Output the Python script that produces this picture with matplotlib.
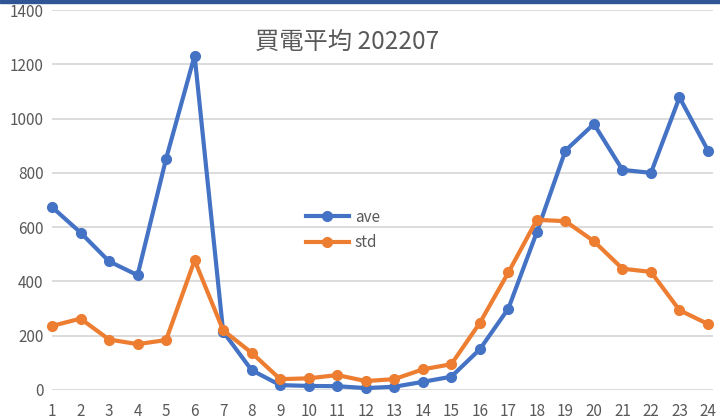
import numpy as np
import matplotlib.pyplot as plt
from matplotlib.patches import Rectangle

plt.rcParams['font.family'] = ['Noto Sans CJK TC', 'DejaVu Sans']

hours = list(range(1, 25))
ave = [674, 580, 474, 423, 852, 1232, 215, 73, 18, 15, 14, 7, 12, 30, 49,
       150, 300, 582, 882, 980, 811, 800, 1078, 882]
std = [236, 263, 186, 169, 184, 478, 220, 137, 40, 43, 55, 33, 40, 76, 95,
       247, 433, 627, 622, 548, 447, 435, 294, 243]

blue = '#4472C4'
orange = '#ED7D31'
grey = '#595959'

fig = plt.figure(figsize=(7.2, 4.2), dpi=100)
ax = fig.add_axes([52 / 720, 1 - 390 / 420, 661 / 720, 380 / 420])

ax.plot(hours, ave, color=blue, lw=3, marker='o', ms=7, label='ave', clip_on=False, zorder=3)
ax.plot(hours, std, color=orange, lw=3, marker='o', ms=7, label='std', clip_on=False, zorder=3)

ax.set_xlim(1 + 2 / 28.6, 24 + 5 / 28.6)
ax.set_ylim(0, 1400)
ax.set_yticks(np.arange(0, 1401, 200))
ax.set_xticks(hours)
ax.grid(axis='y', color='#D9D9D9', lw=1.3)
ax.set_axisbelow(True)
for s in ax.spines.values():
    s.set_visible(False)
ax.tick_params(length=0, labelsize=11, labelcolor=grey)
ax.tick_params(axis='x', pad=9)
ax.tick_params(axis='y', pad=6)

fig.text(347 / 720, 1 - 42 / 420, '買電平均 202207', ha='center', va='center',
         fontsize=17.5, color=grey)

ax.legend(loc='center left', bbox_to_anchor=(306 / 720, 1 - 230 / 420),
          bbox_transform=fig.transFigure, frameon=False, fontsize=11,
          handlelength=2.8, handletextpad=0.4, borderpad=0, borderaxespad=0,
          labelspacing=0.55, labelcolor=grey)

fig.patches.append(Rectangle((0, 1 - 3 / 420), 1, 3 / 420, transform=fig.transFigure,
                             color='#2F5597', zorder=5))

fig.savefig('out.png', dpi=100)
